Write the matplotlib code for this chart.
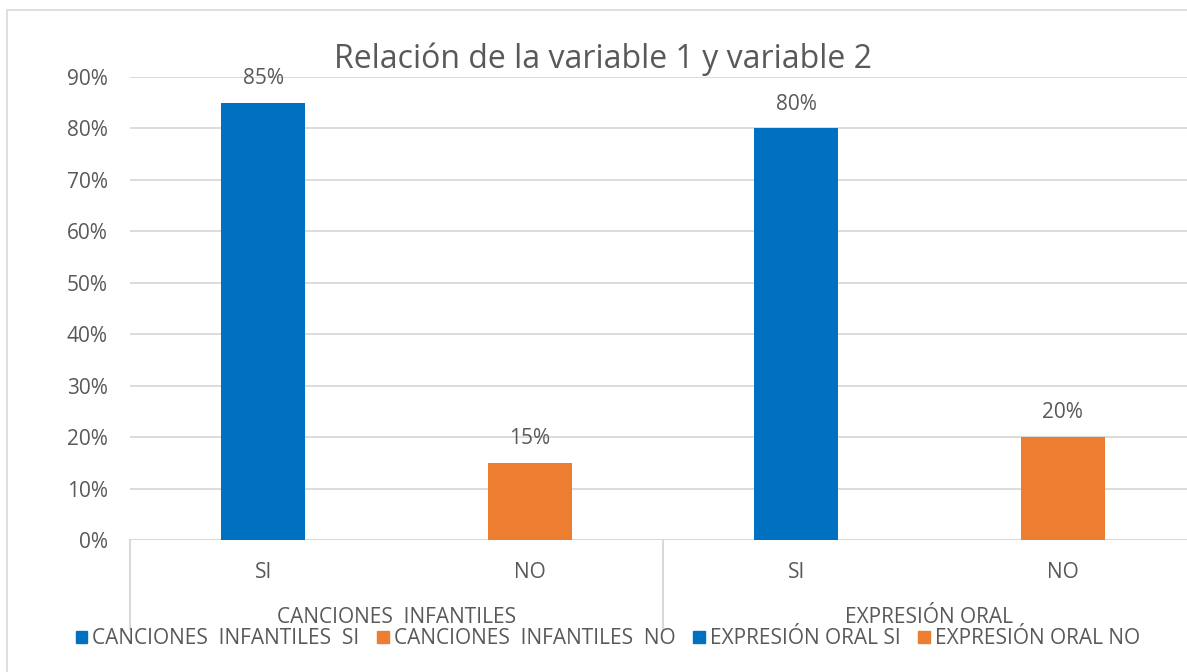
import matplotlib
matplotlib.use("Agg")
import matplotlib.pyplot as plt
from matplotlib.patches import Rectangle, Patch
from matplotlib.lines import Line2D

title = "Relación de la variable 1 y variable 2"
groups = ["CANCIONES  INFANTILES", "EXPRESIÓN ORAL"]
subcats = ["SI", "NO", "SI", "NO"]
values = [0.85, 0.15, 0.80, 0.20]
series_names = ["CANCIONES  INFANTILES  SI", "CANCIONES  INFANTILES  NO",
                "EXPRESIÓN ORAL SI", "EXPRESIÓN ORAL NO"]
colors = ["#0070C0", "#ED7D31", "#0070C0", "#ED7D31"]
yticks = [0, 0.1, 0.2, 0.3, 0.4, 0.5, 0.6, 0.7, 0.8, 0.9]

plt.rcParams['font.family'] = ['Open Sans', 'DejaVu Sans']
TXT = "#595959"
GRID = "#D9D9D9"
FS = 15

W, H = 1187, 672
fig = plt.figure(figsize=(W/100, H/100), dpi=100)
fig.patch.set_facecolor("white")

fig.patches.append(Rectangle((7/W, -0.1), 1.2, 1.1 - 10/H,
                             transform=fig.transFigure, fill=False,
                             edgecolor=GRID, linewidth=1.2))

left, right = 130/W, 1196/W
bottom, top = 1 - 540/H, 1 - 77/H
ax = fig.add_axes([left, bottom, right-left, top-bottom])
ax.set_facecolor("none")

x = list(range(len(values)))
ax.bar(x, values, width=0.315, color=colors, zorder=3)
ax.set_xlim(-0.5, len(values)-0.5)
ax.set_ylim(0, 0.9)
ax.set_yticks(yticks)
ax.set_yticklabels([f"{int(round(v*100))}%" for v in yticks], color=TXT, fontsize=FS)
ax.tick_params(axis='y', length=0, pad=16)
ax.set_xticks([])
ax.grid(axis='y', color=GRID, linewidth=1.3, zorder=0)
for s in ax.spines.values():
    s.set_visible(False)
ax.axhline(0, color=GRID, linewidth=1.5, zorder=2)

for xi, v in zip(x, values):
    ax.annotate(f"{int(round(v*100))}%", (xi, v), xytext=(0, 17.5),
                textcoords="offset points", ha="center", va="center",
                color=TXT, fontsize=FS)

for xi, lab in zip(x, subcats):
    ax.text(xi, -0.0625, lab, ha="center", va="center", color=TXT, fontsize=FS,
            clip_on=False)
for gi, g in enumerate(groups):
    ax.text(2*gi + 0.5, -0.150, g, ha="center", va="center", color=TXT, fontsize=FS,
            clip_on=False)
for xs in [-0.5, 1.5, 3.5]:
    ax.add_line(Line2D([xs, xs], [0, -0.173], color=GRID, linewidth=1.5,
                       clip_on=False))

fig.text(603/W, 1 - 59/H, title, fontsize=23, color=TXT, ha="center", va="center")

handles = [Patch(facecolor=c, edgecolor=c) for c in colors]
fig.legend(handles, series_names, loc="center", bbox_to_anchor=(608/W, 1 - 639/H),
           ncol=4, frameon=False, fontsize=FS, labelcolor=TXT,
           handlelength=0.55, handleheight=0.55, handletextpad=0.25, columnspacing=0.85,
           borderpad=0)

fig.savefig("out.png", dpi=100)
